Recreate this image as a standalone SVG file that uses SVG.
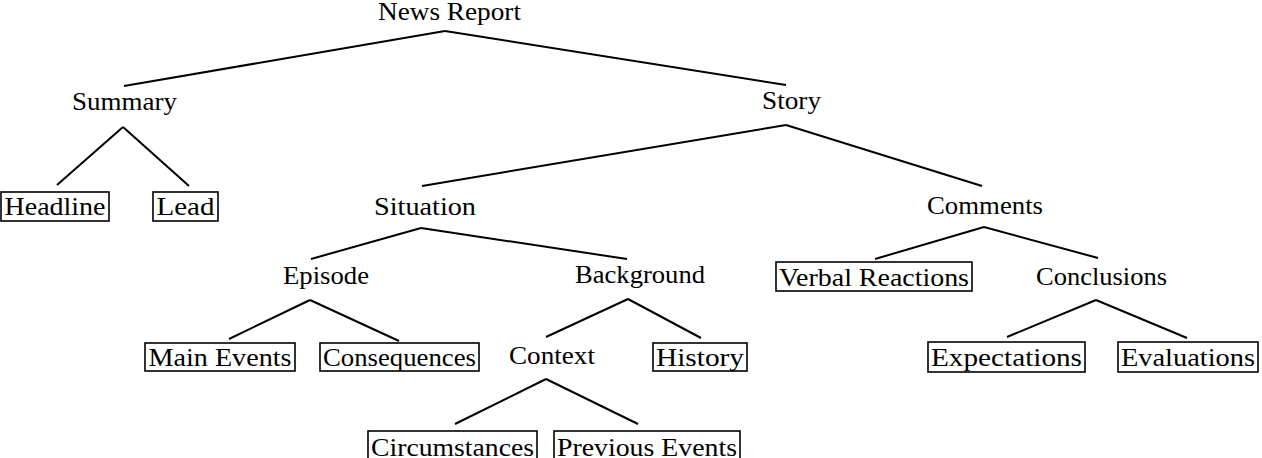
<svg xmlns="http://www.w3.org/2000/svg" width="1262" height="458" viewBox="0 0 1262 458">
<style>
text{font-family:"Liberation Serif","Times New Roman",serif;font-size:26px;fill:#000;text-anchor:middle}
.e line{stroke:#000;stroke-width:2;stroke-linecap:butt}
rect{fill:#fff;stroke:#000;stroke-width:1.6}
</style>
<rect x="0" y="0" width="1262" height="458" style="stroke:none"/>
<g class="e" id="connectors">
<line x1="445" y1="31" x2="124" y2="86"/>
<line x1="445" y1="31" x2="786" y2="85"/>
<line x1="123" y1="127" x2="57" y2="185"/>
<line x1="123" y1="127" x2="189" y2="186"/>
<line x1="786" y1="125" x2="422" y2="186"/>
<line x1="786" y1="125" x2="982" y2="186"/>
<line x1="421" y1="228" x2="311" y2="259"/>
<line x1="421" y1="228" x2="627" y2="259"/>
<line x1="310" y1="300" x2="229" y2="339"/>
<line x1="310" y1="300" x2="399" y2="341"/>
<line x1="628" y1="299" x2="546" y2="337"/>
<line x1="628" y1="299" x2="701" y2="338"/>
<line x1="546" y1="379" x2="455" y2="424"/>
<line x1="546" y1="379" x2="638" y2="424"/>
<line x1="984" y1="227" x2="875" y2="259"/>
<line x1="984" y1="227" x2="1098" y2="258"/>
<line x1="1096" y1="300" x2="1007" y2="337"/>
<line x1="1096" y1="300" x2="1187" y2="338"/>
</g>
<g id="news-report"><text x="449.5" y="20" textLength="143" lengthAdjust="spacingAndGlyphs">News Report</text></g>
<g id="summary"><text x="124.5" y="110" textLength="105" lengthAdjust="spacingAndGlyphs">Summary</text></g>
<g id="story"><text x="791.5" y="109" textLength="59" lengthAdjust="spacingAndGlyphs">Story</text></g>
<g id="headline"><rect x="1" y="192" width="108" height="29"/><text x="55" y="215" textLength="101" lengthAdjust="spacingAndGlyphs">Headline</text></g>
<g id="lead"><rect x="153" y="192" width="65" height="29"/><text x="185.5" y="215" textLength="58" lengthAdjust="spacingAndGlyphs">Lead</text></g>
<g id="situation"><text x="425" y="215" textLength="102" lengthAdjust="spacingAndGlyphs">Situation</text></g>
<g id="comments"><text x="985" y="214" textLength="116" lengthAdjust="spacingAndGlyphs">Comments</text></g>
<g id="episode"><text x="326" y="284" textLength="86" lengthAdjust="spacingAndGlyphs">Episode</text></g>
<g id="background"><text x="640" y="283" textLength="130" lengthAdjust="spacingAndGlyphs">Background</text></g>
<g id="verbal-reactions"><rect x="776" y="262" width="196" height="29"/><text x="874" y="286" textLength="190" lengthAdjust="spacingAndGlyphs">Verbal Reactions</text></g>
<g id="conclusions"><text x="1101.5" y="285" textLength="131" lengthAdjust="spacingAndGlyphs">Conclusions</text></g>
<g id="main-events"><rect x="145" y="343" width="150" height="28"/><text x="220" y="366" textLength="143" lengthAdjust="spacingAndGlyphs">Main Events</text></g>
<g id="consequences"><rect x="320" y="343" width="159" height="28"/><text x="399.5" y="366" textLength="153" lengthAdjust="spacingAndGlyphs">Consequences</text></g>
<g id="context"><text x="552" y="364" textLength="86" lengthAdjust="spacingAndGlyphs">Context</text></g>
<g id="history"><rect x="653" y="343" width="94" height="28"/><text x="700" y="366" textLength="88" lengthAdjust="spacingAndGlyphs">History</text></g>
<g id="expectations"><rect x="928" y="342" width="157" height="30"/><text x="1006.5" y="366" textLength="151" lengthAdjust="spacingAndGlyphs">Expectations</text></g>
<g id="evaluations"><rect x="1118" y="342" width="140" height="30"/><text x="1188" y="366" textLength="134" lengthAdjust="spacingAndGlyphs">Evaluations</text></g>
<g id="circumstances"><rect x="368" y="431" width="169" height="30"/><text x="452.5" y="456" textLength="163" lengthAdjust="spacingAndGlyphs">Circumstances</text></g>
<g id="previous-events"><rect x="554" y="431" width="186" height="30"/><text x="647" y="456" textLength="180" lengthAdjust="spacingAndGlyphs">Previous Events</text></g>
</svg>
